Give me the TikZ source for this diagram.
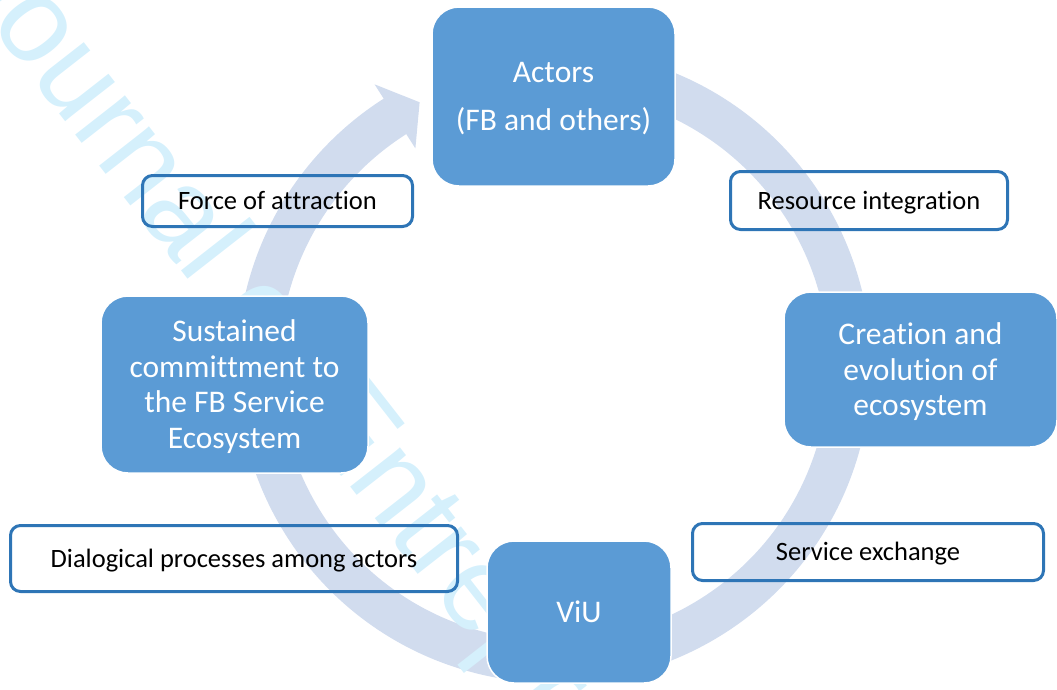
\documentclass[tikz,border=0pt]{standalone}
\usepackage{fontspec}
\setmainfont{Carlito}[Ligatures={NoCommon,NoRare}]
\newfontfamily\wmfont{Liberation Sans}
\usetikzlibrary{positioning,calc}
\newcommand{\nolig}{\kern0pt }
\definecolor{colorstage}{RGB}{91,155,213}
\definecolor{colorlink}{RGB}{46,117,182}
\definecolor{colorcycle}{RGB}{209,220,238}
\definecolor{colorwm}{RGB}{213,240,252}
\tikzstyle{stage}=[rectangle, rounded corners=27pt, draw=white, line width=1.5pt, fill=colorstage, text=white, align=center, inner sep=0pt, font=\fontsize{31.5}{35.5}\selectfont]
\tikzstyle{link}=[rectangle, rounded corners=10pt, draw=colorlink, line width=3pt, text=black, inner sep=0pt, text height=17pt, text depth=0pt, font=\fontsize{26.5}{30}\selectfont]
\tikzstyle{wm}=[text=colorwm, inner sep=0pt, font=\wmfont\fontsize{120}{120}\selectfont]

\begin{document}
\begin{tikzpicture}[x=1pt, y=-1pt]
	\useasboundingbox (0,0) rectangle (1057,689);
	\clip (0,0) rectangle (1057,689);
	
	\coordinate (cyc) at (554,366);
	\fill[colorcycle] ($(cyc)+(-75:317)$) arc[start angle=-75, end angle=237.5, radius=317] -- ($(cyc)+(237.5:334)$) -- ($(cyc)+(243:296)$) -- ($(cyc)+(237.5:258)$) -- ($(cyc)+(237.5:275)$) arc[start angle=237.5, end angle=-75, radius=275] -- cycle;
	
	\node[wm, rotate=-52, anchor=base west] at (-49,-24.5) (wmark) {Journal of Entrepreneurship};
	
	\node[stage, minimum width=243, minimum height=179] at (553.5, 96.5) (actors) {\rule{0pt}{24pt}Actors\\[12pt](FB and others)};
	
	\node[stage, minimum width=273, minimum height=155] at (920.5, 369.5) (creation) {\rule{0pt}{27pt}Creat\nolig ion and\\evolut\nolig ion of\\ecosystem};
	
	\node[stage, minimum width=184, minimum height=142] at (579, 612) (viu) {ViU};
	
	\node[stage, minimum width=267, minimum height=177] at (234.5, 384.5) (sustained) {\rule{0pt}{26pt}Sustained\\commit\nolig tment to\\the FB Service\\Ecosystem};
	
	\node[link, minimum width=270, minimum height=51] at (277.5, 201) (attract) {Force of at\nolig tract\nolig ion};
	
	\node[link, minimum width=277, minimum height=58] at (869, 200.5) (resource) {Resource integrat\nolig ion};
	
	\node[link, minimum width=351, minimum height=57] at (868, 552) (exchange) {Service exchange};
	
	\node[link, minimum width=447, minimum height=66] at (234, 558.5) (dialog) {Dialogical processes among actors};
	
\end{tikzpicture}
\end{document}
